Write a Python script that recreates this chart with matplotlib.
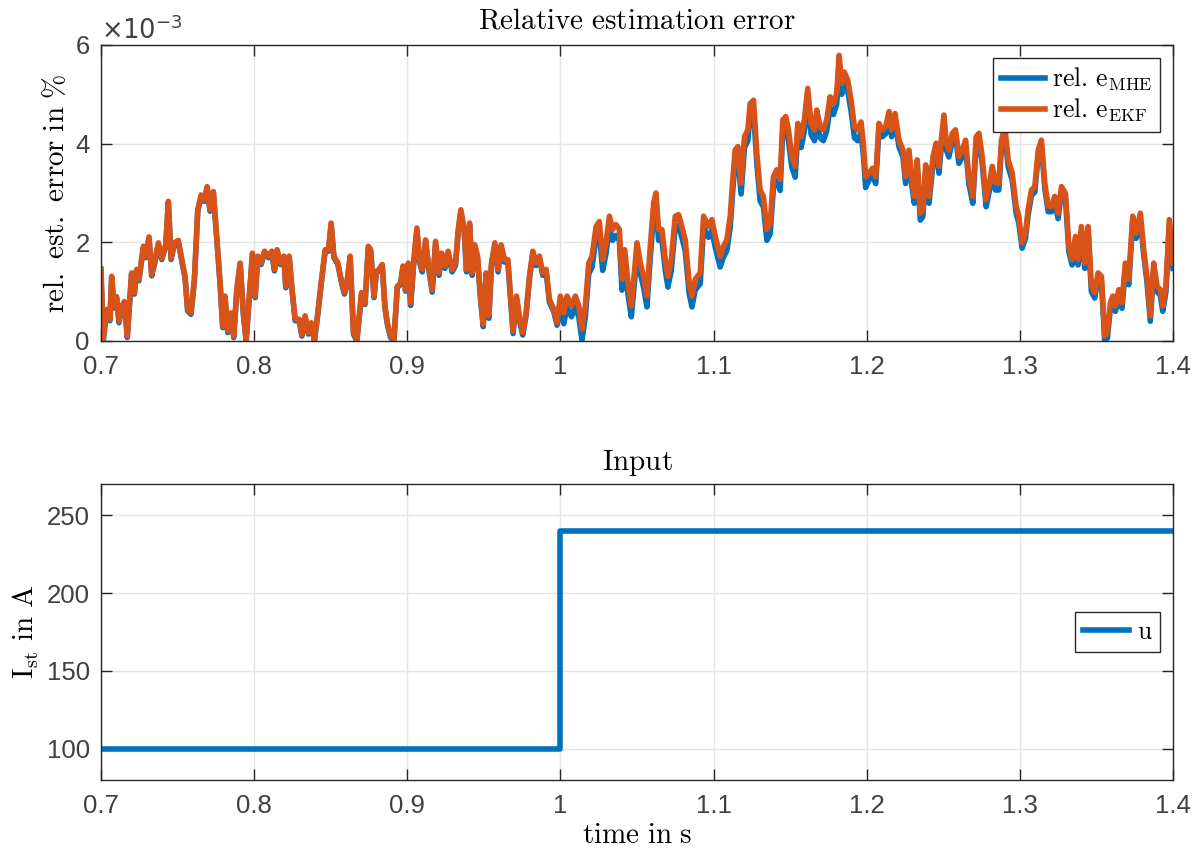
import matplotlib
matplotlib.use("Agg")
import matplotlib.pyplot as plt
import numpy as np

# relative estimation error of the EKF (x 1e-3 %)
ekf_t = [
    0.7000, 0.7015, 0.7037, 0.7059, 0.7070, 0.7087, 0.7102, 0.7118, 0.7135, 0.7153,
    0.7172, 0.7200, 0.7218, 0.7233, 0.7248, 0.7277, 0.7292, 0.7314, 0.7331, 0.7349,
    0.7375, 0.7397, 0.7423, 0.7440, 0.7458, 0.7479, 0.7505, 0.7532, 0.7549, 0.7566,
    0.7588, 0.7610, 0.7632, 0.7654, 0.7675, 0.7693, 0.7712, 0.7734, 0.7756, 0.7778,
    0.7795, 0.7810, 0.7828, 0.7850, 0.7867, 0.7887, 0.7909, 0.7930, 0.7948, 0.7969,
    0.7989, 0.8007, 0.8024, 0.8046, 0.8068, 0.8094, 0.8115, 0.8133, 0.8150, 0.8172,
    0.8194, 0.8207, 0.8229, 0.8246, 0.8268, 0.8294, 0.8312, 0.8333, 0.8355, 0.8373,
    0.8394, 0.8416, 0.8438, 0.8464, 0.8486, 0.8503, 0.8521, 0.8547, 0.8573, 0.8590,
    0.8606, 0.8627, 0.8649, 0.8671, 0.8702, 0.8724, 0.8746, 0.8761, 0.8783, 0.8798,
    0.8815, 0.8837, 0.8854, 0.8870, 0.8891, 0.8913, 0.8935, 0.8957, 0.8972, 0.8989,
    0.9007, 0.9022, 0.9043, 0.9063, 0.9080, 0.9098, 0.9120, 0.9137, 0.9163, 0.9185,
    0.9207, 0.9224, 0.9246, 0.9267, 0.9293, 0.9315, 0.9333, 0.9350, 0.9372, 0.9387,
    0.9407, 0.9424, 0.9441, 0.9459, 0.9478, 0.9496, 0.9515, 0.9533, 0.9550, 0.9572,
    0.9593, 0.9613, 0.9635, 0.9657, 0.9674, 0.9691, 0.9713, 0.9735, 0.9754, 0.9776,
    0.9798, 0.9820, 0.9841, 0.9863, 0.9885, 0.9907, 0.9928, 0.9957, 0.9978, 1.0000,
    1.0022, 1.0043, 1.0072, 1.0098, 1.0120, 1.0141, 1.0163, 1.0185, 1.0207, 1.0233,
    1.0254, 1.0276, 1.0298, 1.0320, 1.0341, 1.0363, 1.0385, 1.0402, 1.0420, 1.0441,
    1.0463, 1.0485, 1.0500, 1.0522, 1.0543, 1.0565, 1.0587, 1.0609, 1.0624, 1.0641,
    1.0663, 1.0685, 1.0702, 1.0724, 1.0750, 1.0772, 1.0793, 1.0815, 1.0841, 1.0859,
    1.0880, 1.0913, 1.0935, 1.0967, 1.0989, 1.1011, 1.1043, 1.1065, 1.1087, 1.1109,
    1.1124, 1.1141, 1.1159, 1.1180, 1.1202, 1.1224, 1.1239, 1.1261, 1.1283, 1.1304,
    1.1326, 1.1348, 1.1370, 1.1391, 1.1413, 1.1435, 1.1452, 1.1472, 1.1489, 1.1511,
    1.1533, 1.1550, 1.1572, 1.1593, 1.1615, 1.1637, 1.1659, 1.1674, 1.1696, 1.1717,
    1.1739, 1.1761, 1.1783, 1.1804, 1.1820, 1.1837, 1.1854, 1.1876, 1.1898, 1.1920,
    1.1941, 1.1963, 1.1978, 1.1993, 1.2015, 1.2037, 1.2059, 1.2080, 1.2102, 1.2124,
    1.2146, 1.2163, 1.2185, 1.2211, 1.2237, 1.2254, 1.2276, 1.2293, 1.2311, 1.2330,
    1.2350, 1.2367, 1.2385, 1.2407, 1.2433, 1.2454, 1.2472, 1.2487, 1.2504, 1.2520,
    1.2537, 1.2559, 1.2580, 1.2602, 1.2624, 1.2646, 1.2667, 1.2693, 1.2715, 1.2733,
    1.2754, 1.2780, 1.2802, 1.2820, 1.2841, 1.2863, 1.2880, 1.2902, 1.2924, 1.2950,
    1.2976, 1.2993, 1.3015, 1.3037, 1.3054, 1.3076, 1.3098, 1.3120, 1.3141, 1.3163,
    1.3185, 1.3207, 1.3228, 1.3250, 1.3272, 1.3298, 1.3320, 1.3341, 1.3363, 1.3380,
    1.3402, 1.3424, 1.3446, 1.3467, 1.3489, 1.3511, 1.3533, 1.3554, 1.3572, 1.3591,
    1.3607, 1.3624, 1.3646, 1.3667, 1.3689, 1.3711, 1.3737, 1.3759, 1.3787, 1.3809,
    1.3830, 1.3852, 1.3874, 1.3896, 1.3917, 1.3933, 1.3954, 1.3976, 1.3993, 1.4000,
]
ekf_err = [
    1.46, 0.03, 0.64, 0.44, 1.31, 0.70, 0.90, 0.40, 0.70, 0.80,
    0.10, 1.38, 0.98, 1.45, 1.25, 1.92, 1.72, 2.11, 1.35, 1.58,
    1.99, 1.68, 1.95, 2.83, 1.68, 1.99, 2.04, 1.58, 1.31, 0.64,
    0.57, 1.25, 2.66, 2.96, 2.86, 3.13, 2.66, 3.03, 2.12, 1.18,
    0.30, 0.91, 0.20, 0.57, 0.10, 1.04, 1.58, 0.57, 0.02, 0.91,
    1.78, 0.91, 1.72, 1.58, 1.82, 1.72, 1.82, 1.45, 1.85, 1.58,
    1.72, 1.11, 1.72, 1.11, 0.44, 0.44, 0.13, 0.51, 0.17, 0.37,
    0.03, 0.57, 1.18, 1.85, 1.85, 2.39, 1.72, 1.58, 1.18, 0.98,
    1.18, 1.72, 0.17, 0.03, 0.98, 0.77, 1.92, 1.85, 0.91, 1.41,
    1.45, 1.55, 0.71, 0.37, 0.10, 0.03, 1.11, 1.18, 1.52, 1.04,
    1.58, 0.77, 1.65, 2.29, 1.65, 1.45, 2.05, 1.58, 1.04, 2.02,
    1.38, 1.78, 1.52, 1.82, 1.45, 1.58, 2.26, 2.66, 2.26, 1.45,
    2.39, 1.38, 1.95, 1.72, 0.91, 0.34, 1.38, 0.51, 1.58, 1.99,
    1.45, 1.95, 1.65, 1.65, 0.91, 0.20, 0.91, 0.44, 0.17, 0.57,
    1.31, 1.82, 1.58, 1.72, 1.38, 1.45, 0.84, 0.64, 0.37, 0.91,
    0.57, 0.91, 0.71, 0.91, 0.71, 0.24, 0.71, 1.58, 1.72, 2.32,
    2.42, 1.65, 1.99, 2.53, 2.26, 2.36, 2.26, 1.25, 1.85, 1.18,
    0.71, 1.45, 1.99, 1.58, 1.31, 0.91, 1.92, 2.80, 3.00, 2.26,
    2.26, 1.65, 1.31, 1.65, 2.53, 2.56, 2.32, 2.05, 1.18, 0.91,
    1.25, 1.38, 2.53, 2.32, 2.46, 2.12, 1.72, 1.92, 2.05, 2.53,
    3.20, 3.87, 3.94, 3.20, 4.14, 4.28, 4.81, 4.88, 3.80, 3.06,
    2.93, 2.26, 2.39, 3.33, 3.47, 3.27, 4.48, 4.55, 4.28, 3.74,
    3.54, 4.41, 4.14, 4.48, 5.12, 4.41, 4.28, 4.68, 4.34, 4.28,
    4.48, 4.95, 4.81, 5.02, 5.79, 5.22, 5.45, 5.29, 4.88, 4.34,
    4.28, 4.44, 4.01, 3.33, 3.40, 3.50, 3.33, 4.41, 4.28, 4.34,
    4.65, 4.28, 4.61, 4.07, 3.87, 3.33, 3.87, 3.33, 2.93, 3.67,
    2.59, 2.66, 3.57, 2.93, 3.74, 4.01, 3.54, 4.07, 4.58, 4.01,
    3.87, 4.21, 4.28, 3.74, 3.87, 4.07, 3.33, 2.93, 4.14, 4.21,
    3.74, 2.86, 3.20, 3.54, 3.20, 3.20, 4.07, 4.34, 3.67, 3.40,
    2.73, 2.53, 1.99, 2.19, 2.66, 3.06, 3.13, 3.87, 4.07, 3.20,
    2.73, 2.73, 2.93, 2.59, 3.13, 2.99, 1.92, 1.65, 2.12, 1.65,
    2.32, 1.58, 2.32, 1.11, 0.98, 1.38, 1.31, 0.10, 0.17, 0.77,
    0.91, 0.71, 1.04, 0.77, 1.58, 1.25, 2.53, 2.19, 2.59, 1.85,
    1.31, 0.51, 1.58, 1.11, 1.04, 0.71, 1.11, 2.46, 1.85, 1.58,
]

# gap between EKF and MHE error per 0.1 s window (MHE slightly lower)
gap_start = [0.7, 0.8, 0.9, 1.0, 1.1, 1.2, 1.3]
gap_value = [0.03, 0.03, 0.05, 0.22, 0.22, 0.14, 0.11]

# input current
u_t = [0.7, 1.0, 1.4]
u_val = [100, 240, 240]

BLUE = "#0072BD"
ORANGE = "#D95319"
GRID = "#E5E5E5"
AX = "#262626"
TXT = "#404040"

plt.rcParams["font.family"] = ["Liberation Sans", "DejaVu Sans"]
plt.rcParams["mathtext.fontset"] = "cm"

ekf_t = np.array(ekf_t)
ekf_err = np.array(ekf_err)
seg = np.clip(np.searchsorted(gap_start, ekf_t, side="right") - 1, 0, len(gap_start) - 1)
mhe_err = np.clip(ekf_err - np.array(gap_value)[seg], 0, None)


def style_axes(ax):
    ax.grid(True, color=GRID, linewidth=1.0)
    ax.set_axisbelow(True)
    for s in ax.spines.values():
        s.set_color(AX)
        s.set_linewidth(1.0)
    ax.tick_params(direction="in", length=8, width=1.0, colors=AX,
                   labelcolor=TXT, labelsize=18.5, top=True, right=True)
    ax.tick_params(axis="x", pad=10)
    ax.tick_params(axis="y", pad=8)
    ax.set_xlim(0.7, 1.4)
    ax.set_xticks(np.arange(0.7, 1.41, 0.1))
    ax.set_xticklabels(["0.7", "0.8", "0.9", "1", "1.1", "1.2", "1.3", "1.4"])


fig = plt.figure(figsize=(11.99, 8.52), dpi=100)
ax1 = fig.add_axes([0.0842, 0.5998, 0.8941, 0.3474])
ax2 = fig.add_axes([0.0842, 0.0845, 0.8941, 0.3475])

# --- relative estimation error ---
ax1.plot(ekf_t, mhe_err, color=BLUE, lw=4.0, label=r"$\mathrm{rel.\,e_{MHE}}$")
ax1.plot(ekf_t, ekf_err, color=ORANGE, lw=4.0, label=r"$\mathrm{rel.\,e_{EKF}}$")
style_axes(ax1)
ax1.set_ylim(0, 6)
ax1.set_yticks([0, 2, 4, 6])
ax1.set_title(r"$\mathrm{Relative\ estimation\ error}$", fontsize=21, pad=12)
ax1.set_ylabel(r"$\mathrm{rel.\ est.\ error\ in\ \%}$", fontsize=21, labelpad=4)
ax1.text(0.0, 1.005, r"$\times10^{-3}$", transform=ax1.transAxes,
         fontsize=18.5, color=TXT, ha="left", va="bottom",
         math_fontfamily="dejavusans")
leg1 = ax1.legend(loc="upper right", fontsize=18.5, handlelength=1.7,
                  borderaxespad=0.5, handletextpad=0.3, labelspacing=0.15,
                  fancybox=False, framealpha=1, borderpad=0.3)
leg1.get_frame().set_edgecolor(AX)
leg1.get_frame().set_linewidth(1.0)

# --- input ---
ax2.plot(u_t, u_val, color=BLUE, lw=4.0, drawstyle="steps-post", label=r"$\mathrm{u}$")
style_axes(ax2)
ax2.set_ylim(80, 270)
ax2.set_yticks([100, 150, 200, 250])
ax2.set_title(r"$\mathrm{Input}$", fontsize=21, pad=10)
ax2.set_ylabel(r"$\mathrm{I_{st}\ in\ A}$", fontsize=21, labelpad=4)
ax2.set_xlabel(r"$\mathrm{time\ in\ s}$", fontsize=21, labelpad=2)
leg2 = ax2.legend(loc="center right", fontsize=18.5, handlelength=1.8,
                  borderaxespad=0.5, handletextpad=0.3, fancybox=False,
                  framealpha=1, borderpad=0.3)
leg2.get_frame().set_edgecolor(AX)
leg2.get_frame().set_linewidth(1.0)

fig.savefig("out.png", dpi=100)
